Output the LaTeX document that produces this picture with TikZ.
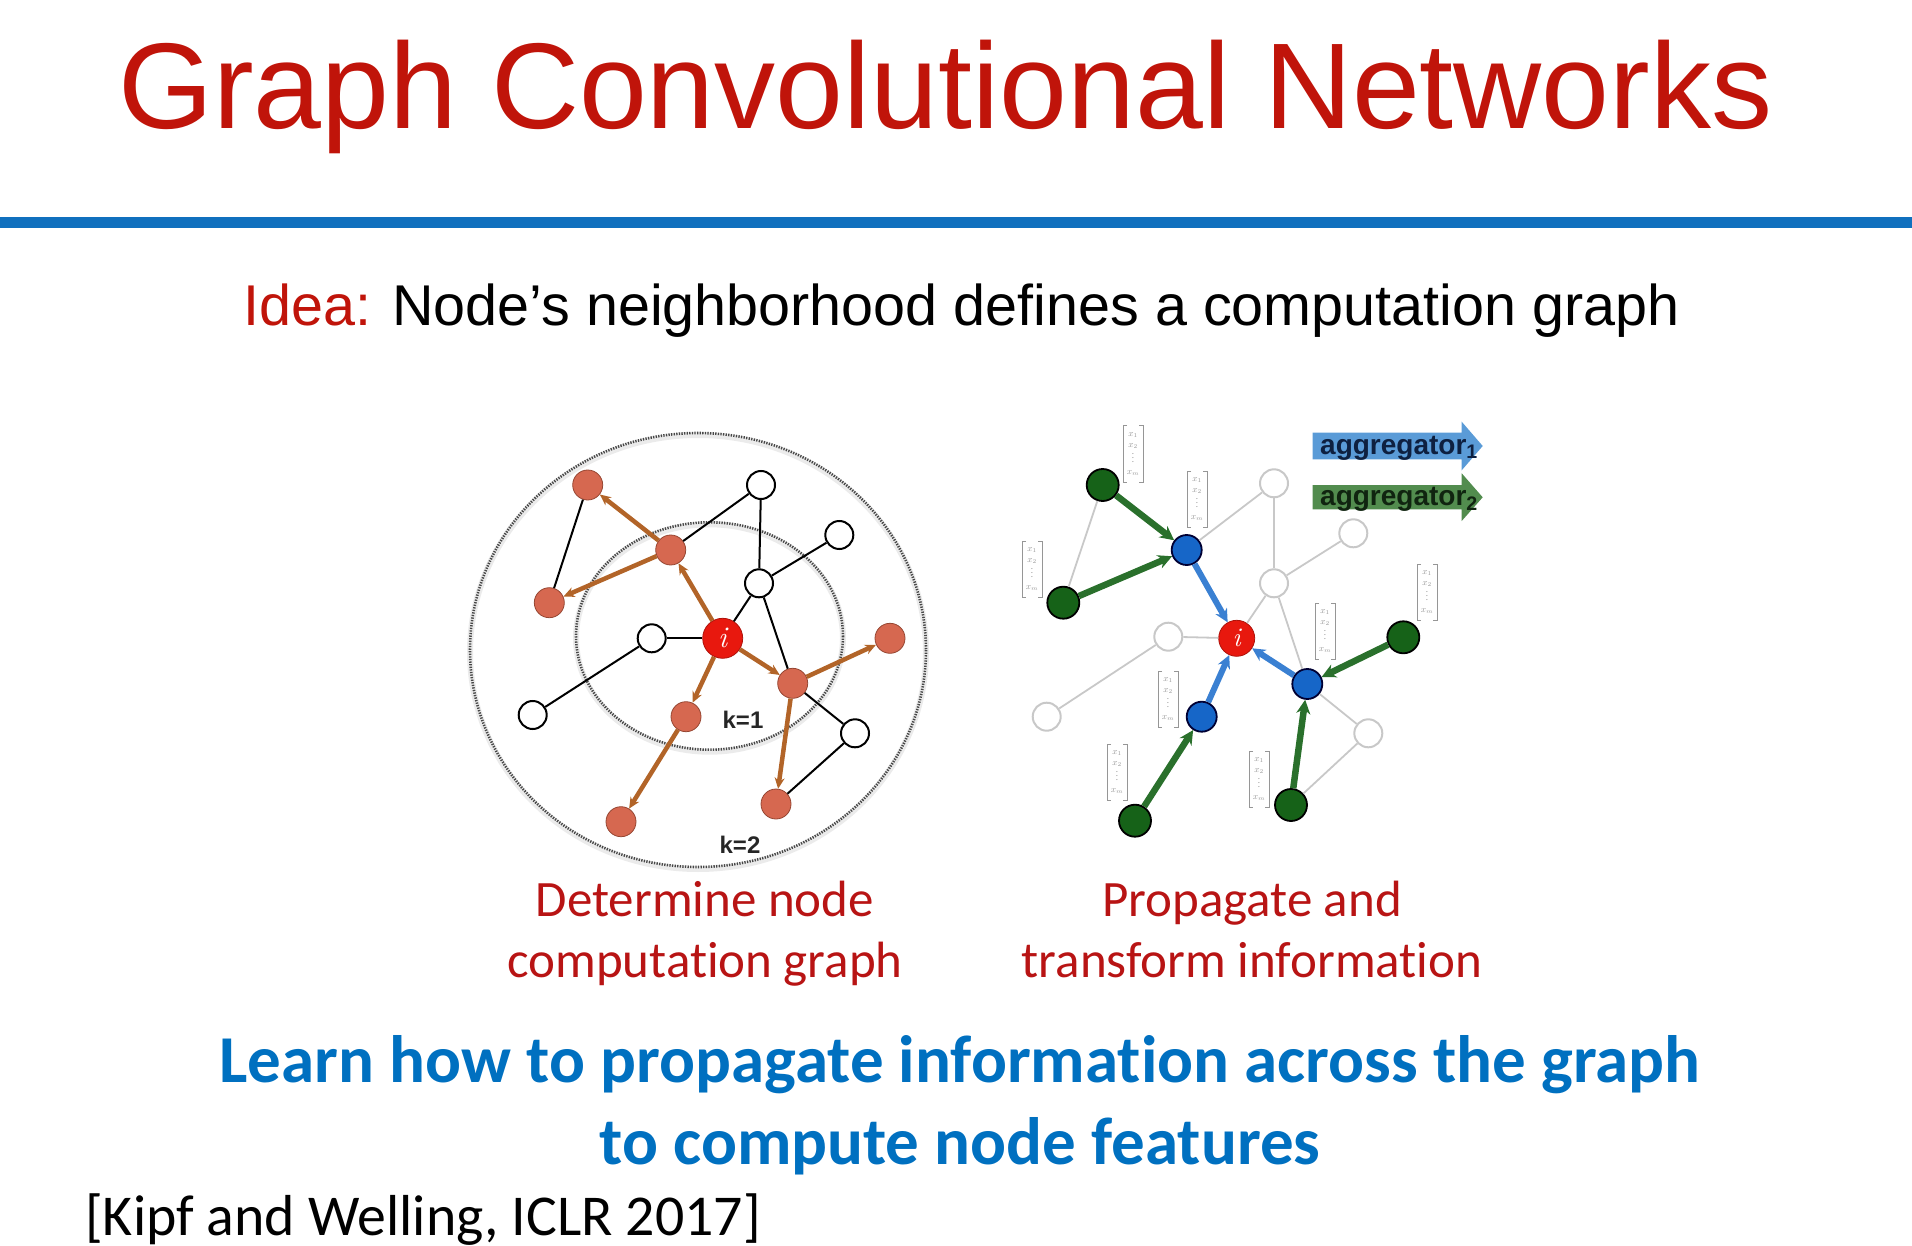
\documentclass[tikz,border=0pt]{standalone}
\usepackage{fontspec}
\usepackage{amsmath}
\setmainfont{Carlito}[Ligatures=NoCommon]
\newfontfamily\arialfont{Liberation Sans}
\usetikzlibrary{arrows.meta}
\definecolor{titlered}{RGB}{192,20,10}
\definecolor{lineblue}{RGB}{16,112,190}
\definecolor{learnblue}{RGB}{0,112,192}
\definecolor{capred}{RGB}{184,20,20}
\definecolor{salmon}{RGB}{214,104,80}
\definecolor{salmonedge}{RGB}{150,70,50}
\definecolor{ired}{RGB}{232,24,14}
\definecolor{oedge}{RGB}{178,100,40}
\definecolor{gnode}{RGB}{22,98,24}
\definecolor{bnode}{RGB}{22,102,200}
\definecolor{barrow}{RGB}{58,128,210}
\definecolor{garrow}{RGB}{42,112,44}
\definecolor{lgray}{RGB}{200,200,200}
\definecolor{vecgray}{RGB}{150,150,150}
\definecolor{aggblue}{RGB}{90,155,215}
\definecolor{agggreen}{RGB}{82,140,78}
\definecolor{aggtextb}{RGB}{14,32,64}
\definecolor{aggtextg}{RGB}{16,36,16}
\newcommand{\featvec}{$x_1$\\$x_2$\\[-2pt]$\vdots$\\$x_m$}
\begin{document}
\begin{tikzpicture}[x=1pt,y=-1pt,
  wnode/.style={circle,draw=black,line width=2pt,fill=white,minimum size=28pt,inner sep=0pt},
  snode/.style={circle,draw=salmonedge,line width=0.8pt,fill=salmon,minimum size=30pt,inner sep=0pt},
  inode/.style={circle,draw=ired!75!black,line width=0.8pt,fill=ired,inner sep=0pt,text=white,
     font=\fontfamily{lmr}\selectfont\itshape\fontsize{30}{30}\selectfont},
  gwnode/.style={circle,draw=lgray,line width=2pt,fill=white,minimum size=28pt,inner sep=0pt},
  gnodest/.style={circle,draw=black,line width=1.8pt,fill=gnode,minimum size=32pt,inner sep=0pt},
  bnodest/.style={circle,draw=black!80!blue,line width=1.8pt,fill=bnode,minimum size=30pt,inner sep=0pt},
  bedge/.style={draw=black,line width=2pt},
  gedge/.style={draw=lgray,line width=1.8pt},
  oarrow/.style={draw=oedge,line width=4.5pt,-{Stealth[length=11pt,width=10pt]}},
  barr/.style={draw=barrow,line width=6pt,-{Stealth[length=13pt,width=13pt]}},
  garr/.style={draw=garrow,line width=6.5pt,-{Stealth[length=14pt,width=14pt]}},
  dotring/.style={draw=black!72,line width=2.6pt,dash pattern=on 1.3pt off 1.3pt},
  halo/.style={draw=black!8,line width=6pt},
  vecnode/.style={inner sep=0pt,minimum width=24pt,minimum height=58pt,align=center,
     text=vecgray,font=\fontsize{9}{11.5}\selectfont,
     path picture={
       \draw[vecgray,line width=1pt]
         ([xshift=6pt,yshift=-1pt]path picture bounding box.north west) -- ([xshift=2pt,yshift=-1pt]path picture bounding box.north west)
         -- ([xshift=2pt,yshift=1pt]path picture bounding box.south west) -- ([xshift=6pt,yshift=1pt]path picture bounding box.south west);
       \draw[vecgray,line width=1pt]
         ([xshift=-6pt,yshift=-1pt]path picture bounding box.north east) -- ([xshift=-2pt,yshift=-1pt]path picture bounding box.north east)
         -- ([xshift=-2pt,yshift=1pt]path picture bounding box.south east) -- ([xshift=-6pt,yshift=1pt]path picture bounding box.south east);
     }},
  capt/.style={anchor=base,inner sep=0pt,text=capred,font=\fontsize{51}{60}\selectfont},
  learn/.style={anchor=base,inner sep=0pt,text=learnblue,font=\bfseries\fontsize{67}{80}\selectfont},
  klabel/.style={inner sep=0pt,text=black!85,font=\arialfont\bfseries\fontsize{24}{26}\selectfont}
]
\useasboundingbox (0,0) rectangle (1912,1246);

% ---------- title ----------
\node[anchor=base west,inner sep=0pt,text=titlered,font=\arialfont\fontsize{122}{140}\selectfont] (title) at (118,129) {Graph Convolutional Networks};
\draw[lineblue,line width=11pt] (0,223) -- (1912,223);
\node[anchor=base west,inner sep=0pt,font=\arialfont\fontsize{57.5}{70}\selectfont] (idea) at (243,326) {\textcolor{titlered}{Idea:} Node’s neighborhood defines a computation graph};

% ---------- left graph ----------
\draw[halo] (698,652) ellipse [x radius=228, y radius=217];
\draw[dotring] (698,650) ellipse [x radius=228, y radius=217];
\draw[halo] (709.5,638) ellipse [x radius=133.5, y radius=113.7];
\draw[dotring] (709.5,636) ellipse [x radius=133.5, y radius=113.7];

\node[snode] (Lr1) at (587.7,485) {};
\node[wnode] (Lwt) at (761,485) {};
\node[wnode] (Lwru) at (839.3,535) {};
\node[snode] (Lr2) at (670.7,550) {};
\node[wnode] (Lwc) at (759,583.3) {};
\node[snode] (Lr3) at (549.3,602.7) {};
\node[wnode] (Lwl) at (651.7,638.3) {};
\node[inode,minimum size=40pt] (Li) at (722.7,638.3) {i};
\node[snode] (Lr4) at (890,638.3) {};
\node[snode] (Lr5) at (792.7,683.3) {};
\node[wnode] (Lwfl) at (532.7,715) {};
\node[snode] (Lr6) at (686,716.7) {};
\node[wnode] (Lwlr) at (855,733.3) {};
\node[snode] (Lr7) at (776,804) {};
\node[snode] (Lr8) at (621,821.7) {};

\draw[bedge] (Lr1) -- (Lr3);
\draw[bedge] (Lr2) -- (Lwt);
\draw[bedge] (Lwt) -- (Lwc);
\draw[bedge] (Lwc) -- (Lwru);
\draw[bedge] (Lwc) -- (Li);
\draw[bedge] (Lwc) -- (Lr5);
\draw[bedge] (Lr5) -- (Lwlr);
\draw[bedge] (Lwlr) -- (Lr7);
\draw[bedge] (Lwl) -- (Li);
\draw[bedge] (Lwl) -- (Lwfl);

\draw[oarrow] (Li) -- (Lr2);
\draw[oarrow] (Lr2) -- (Lr1);
\draw[oarrow] (Lr2) -- (Lr3);
\draw[oarrow] (Li) -- (Lr6);
\draw[oarrow] (Lr6) -- (Lr8);
\draw[oarrow] (Li) -- (Lr5);
\draw[oarrow] (Lr5) -- (Lr4);
\draw[oarrow] (Lr5) -- (Lr7);

\node[klabel] (k1) at (743,720) {k=1};
\node[klabel] (k2) at (740,845) {k=2};

% ---------- right graph ----------
\node[gnodest] (Rg1) at (1102.7,485) {};
\node[gwnode] (Rwt) at (1274,483.3) {};
\node[gwnode] (Rwru) at (1353.3,533.3) {};
\node[bnodest] (Rb1) at (1186.7,550) {};
\node[gwnode] (Rwc) at (1274,583.3) {};
\node[gnodest] (Rg2) at (1063.3,602.7) {};
\node[gwnode] (Rwl) at (1168.3,636.7) {};
\node[inode,minimum size=36pt,font=\fontfamily{lmr}\selectfont\itshape\fontsize{27}{27}\selectfont] (Ri) at (1236.7,638.3) {i};
\node[gnodest] (Rgr) at (1403.3,637.3) {};
\node[bnodest] (Rbr) at (1307.3,684) {};
\node[gwnode] (Rwfl) at (1046.7,716.7) {};
\node[bnodest] (Rbb) at (1201.7,716.7) {};
\node[gwnode] (Rwlr) at (1368.3,733.3) {};
\node[gnodest] (Rgbr) at (1291,805) {};
\node[gnodest] (Rgbl) at (1135,820.7) {};

\draw[gedge] (Rg1) -- (Rg2);
\draw[gedge] (Rb1) -- (Rwt);
\draw[gedge] (Rwt) -- (Rwc);
\draw[gedge] (Rwc) -- (Rwru);
\draw[gedge] (Rwc) -- (Ri);
\draw[gedge] (Rwc) -- (Rbr);
\draw[gedge] (Rbr) -- (Rwlr);
\draw[gedge] (Rwlr) -- (Rgbr);
\draw[gedge] (Rwl) -- (Ri);
\draw[gedge] (Rwl) -- (Rwfl);

\draw[barr] (Rb1) -- (Ri);
\draw[barr] (Rbb) -- (Ri);
\draw[barr] (Rbr) -- (Ri);
\draw[garr] (Rg1) -- (Rb1);
\draw[garr] (Rg2) -- (Rb1);
\draw[garr] (Rgr) -- (Rbr);
\draw[garr] (Rgbr) -- (Rbr);
\draw[garr] (Rgbl) -- (Rbb);

\node[vecnode] (v1) at (1133,454) {\featvec};
\node[vecnode] (v2) at (1197,499) {\featvec};
\node[vecnode] (v3) at (1032,569) {\featvec};
\node[vecnode] (v4) at (1427,592) {\featvec};
\node[vecnode] (v5) at (1325,631) {\featvec};
\node[vecnode] (v6) at (1168,699) {\featvec};
\node[vecnode] (v7) at (1117,772) {\featvec};
\node[vecnode] (v8) at (1259,779) {\featvec};

% aggregator arrows
\fill[aggblue] (1312.7,432.7) -- (1461.7,432.7) -- (1461.7,421.7) -- (1482.7,446) -- (1461.7,470.3) -- (1461.7,459.3) -- (1312.7,459.3) -- cycle;
\fill[agggreen] (1312.7,485) -- (1461.7,485) -- (1461.7,473.3) -- (1482.7,497.3) -- (1461.7,521) -- (1461.7,509.3) -- (1312.7,509.3) -- cycle;
\node[anchor=base west,inner sep=0pt,text=aggtextb,font=\arialfont\bfseries\fontsize{28}{30}\selectfont] (agg1) at (1320,454) {aggregator\textsubscript{1}};
\node[anchor=base west,inner sep=0pt,text=aggtextg,font=\arialfont\bfseries\fontsize{28}{30}\selectfont] (agg2) at (1320,505) {aggregator\textsubscript{2}};

% ---------- captions ----------
\node[capt] (capL1) at (705,916) {Determine node};
\node[capt] (capL2) at (705,977) {computation graph};
\node[capt] (capR1) at (1252,916) {Propagate and};
\node[capt] (capR2) at (1252,977) {transform information};

\node[learn] (learn1) at (960,1082) {Learn how to propagate information across the graph};
\node[learn] (learn2) at (960,1164) {to compute node features};

\node[anchor=base west,inner sep=0pt,font=\fontsize{57.8}{68}\selectfont] (ref) at (85,1235) {[Kipf and Welling, ICLR 2017]};
\end{tikzpicture}
\end{document}
